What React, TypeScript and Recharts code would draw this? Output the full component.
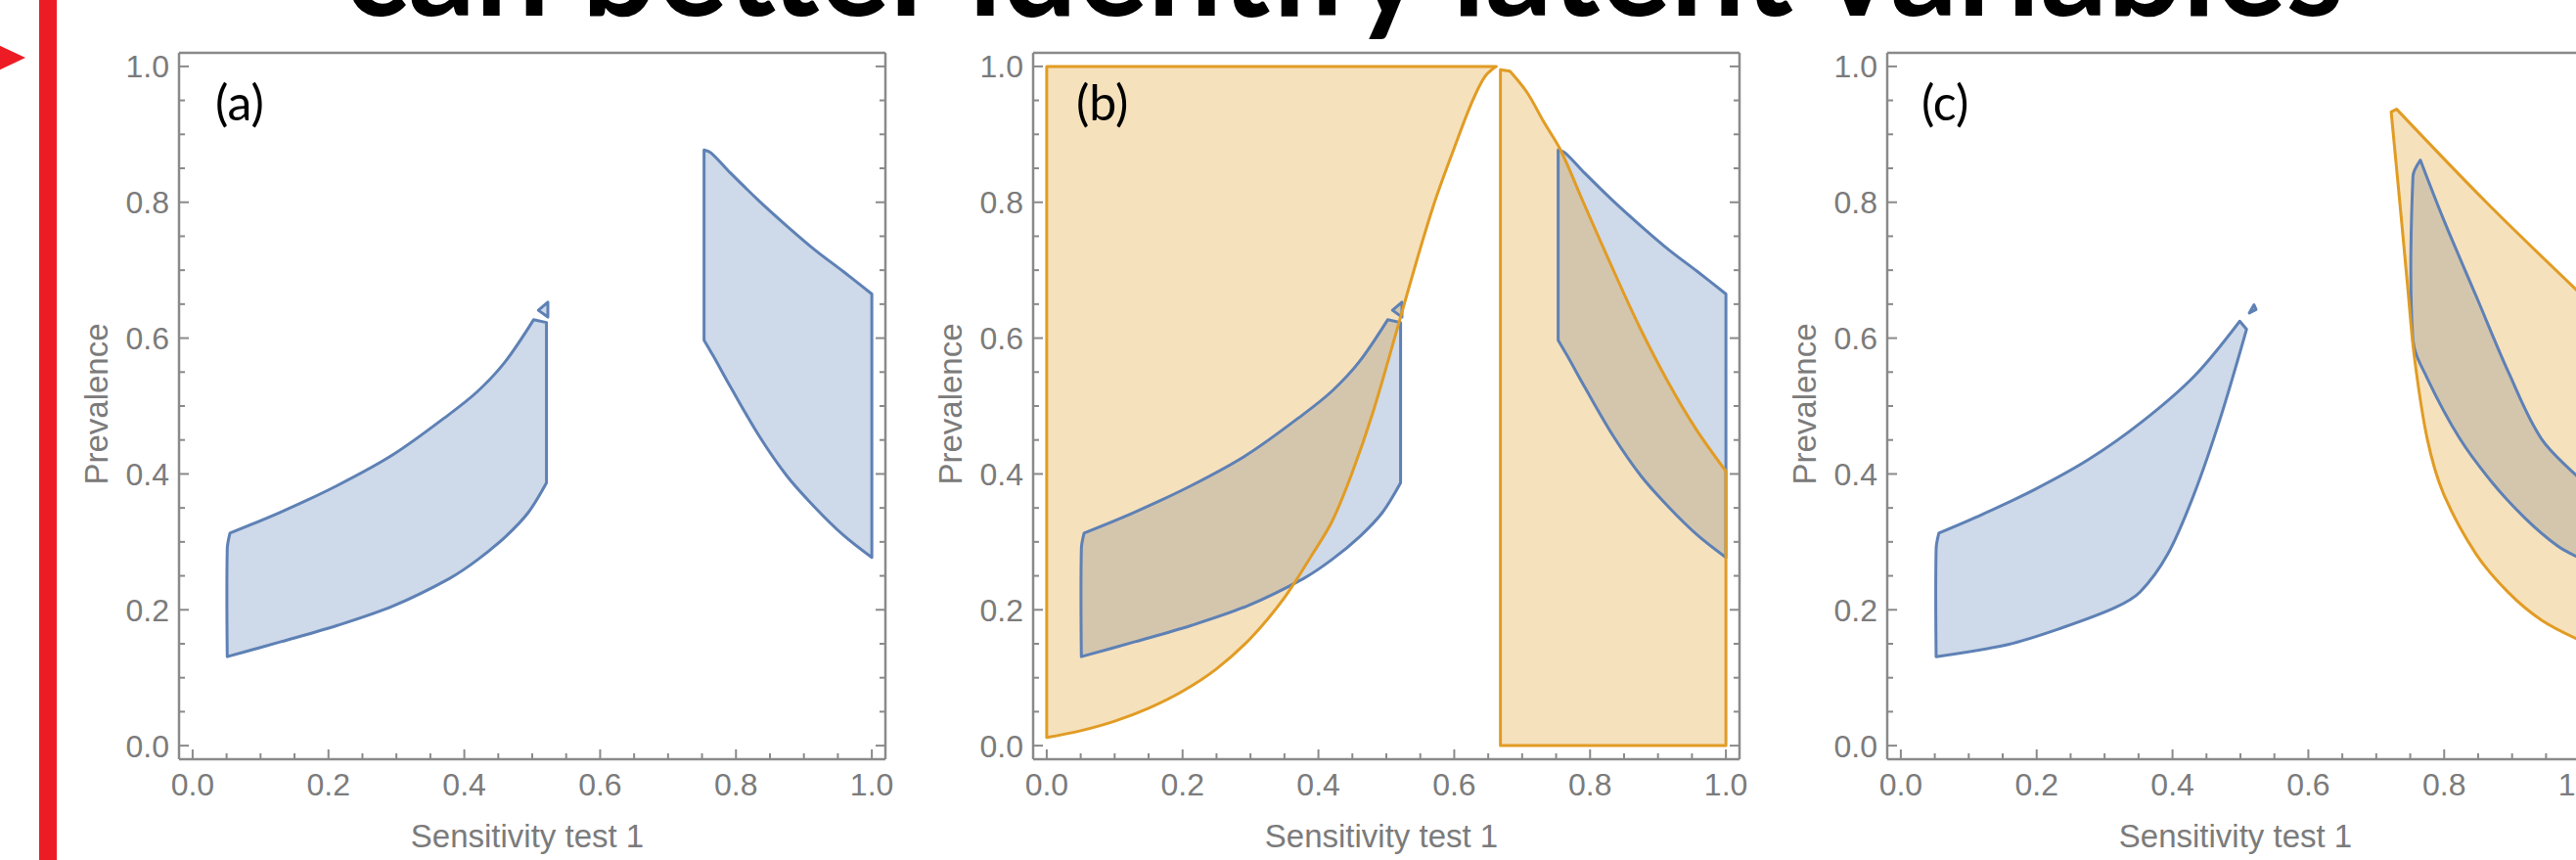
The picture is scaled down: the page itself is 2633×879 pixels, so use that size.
import React from "react";
import { ScatterChart, Scatter, XAxis, YAxis } from "recharts";

// ---- data ----
const majorTicks = [0, 0.2, 0.4, 0.6, 0.8, 1.0];
const allTicks = [
  0, 0.05, 0.1, 0.15, 0.2, 0.25, 0.3, 0.35, 0.4, 0.45, 0.5,
  0.55, 0.6, 0.65, 0.7, 0.75, 0.8, 0.85, 0.9, 0.95, 1.0,
];
const panelLabels = ["(a)", "(b)", "(c)"];

// blue region, left lobe (panels a and b)
const blueLeft = [
  { x: 0.051, y: 0.131 }, { x: 0.13, y: 0.153 }, { x: 0.213, y: 0.177 },
  { x: 0.296, y: 0.206 }, { x: 0.378, y: 0.246 }, { x: 0.42, y: 0.274 },
  { x: 0.461, y: 0.308 }, { x: 0.494, y: 0.343 }, { x: 0.521, y: 0.387 },
  { x: 0.521, y: 0.623 }, { x: 0.502, y: 0.627 }, { x: 0.46, y: 0.565 },
  { x: 0.42, y: 0.522 }, { x: 0.378, y: 0.488 }, { x: 0.296, y: 0.429 },
  { x: 0.213, y: 0.383 }, { x: 0.13, y: 0.344 }, { x: 0.055, y: 0.313 },
  { x: 0.051, y: 0.29 },
];
const blueNub = [
  { x: 0.523, y: 0.653 }, { x: 0.509, y: 0.641 }, { x: 0.523, y: 0.631 },
];
// blue region, right lobe (panels a and b)
const blueRight = [
  { x: 0.753, y: 0.597 }, { x: 0.753, y: 0.877 }, { x: 0.763, y: 0.873 },
  { x: 0.792, y: 0.843 }, { x: 0.834, y: 0.802 }, { x: 0.875, y: 0.765 },
  { x: 0.916, y: 0.73 }, { x: 0.958, y: 0.698 }, { x: 1.0, y: 0.665 },
  { x: 1.0, y: 0.277 }, { x: 0.958, y: 0.31 }, { x: 0.916, y: 0.351 },
  { x: 0.875, y: 0.397 }, { x: 0.834, y: 0.456 }, { x: 0.792, y: 0.528 },
  { x: 0.767, y: 0.573 },
];
// orange region (panel b), part above the curve
const orangeLeftB = [
  { x: 0.0, y: 0.012 }, { x: 0.0, y: 1.0 }, { x: 0.662, y: 1.0 },
  { x: 0.645, y: 0.985 }, { x: 0.625, y: 0.945 }, { x: 0.6, y: 0.88 },
  { x: 0.571, y: 0.8 }, { x: 0.545, y: 0.715 }, { x: 0.515, y: 0.61 },
  { x: 0.48, y: 0.49 }, { x: 0.449, y: 0.4 }, { x: 0.42, y: 0.33 },
  { x: 0.39, y: 0.28 }, { x: 0.35, y: 0.218 }, { x: 0.3, y: 0.158 },
  { x: 0.25, y: 0.113 }, { x: 0.2, y: 0.08 }, { x: 0.15, y: 0.055 },
  { x: 0.1, y: 0.036 }, { x: 0.05, y: 0.022 },
];
// orange region (panel b), part below the curve
const orangeRightB = [
  { x: 0.668, y: 0.995 }, { x: 0.668, y: 0.0 }, { x: 1.0, y: 0.0 },
  { x: 1.0, y: 0.404 }, { x: 0.956, y: 0.466 }, { x: 0.915, y: 0.535 },
  { x: 0.873, y: 0.616 }, { x: 0.832, y: 0.705 }, { x: 0.79, y: 0.8 },
  { x: 0.757, y: 0.876 }, { x: 0.732, y: 0.918 }, { x: 0.707, y: 0.962 },
  { x: 0.682, y: 0.993 },
];
// panel c
const blueLeftC = [
  { x: 0.052, y: 0.131 }, { x: 0.158, y: 0.149 }, { x: 0.236, y: 0.173 },
  { x: 0.315, y: 0.203 }, { x: 0.352, y: 0.226 }, { x: 0.393, y: 0.282 },
  { x: 0.432, y: 0.371 }, { x: 0.471, y: 0.484 }, { x: 0.509, y: 0.613 },
  { x: 0.499, y: 0.625 }, { x: 0.432, y: 0.544 }, { x: 0.354, y: 0.476 },
  { x: 0.276, y: 0.421 }, { x: 0.197, y: 0.377 }, { x: 0.119, y: 0.34 },
  { x: 0.056, y: 0.313 }, { x: 0.052, y: 0.29 },
];
const blueNubC = [
  { x: 0.513, y: 0.637 }, { x: 0.52, y: 0.649 }, { x: 0.523, y: 0.642 },
];
const blueRightC = [
  { x: 0.754, y: 0.597 }, { x: 0.754, y: 0.838 }, { x: 0.765, y: 0.862 },
  { x: 0.799, y: 0.775 }, { x: 0.847, y: 0.662 }, { x: 0.895, y: 0.549 },
  { x: 0.943, y: 0.452 }, { x: 1.0, y: 0.393 }, { x: 1.0, y: 0.276 },
  { x: 0.967, y: 0.294 }, { x: 0.919, y: 0.335 }, { x: 0.871, y: 0.387 },
  { x: 0.823, y: 0.452 }, { x: 0.775, y: 0.541 },
];
const orangeC = [
  { x: 0.722, y: 0.933 }, { x: 0.73, y: 0.937 }, { x: 0.862, y: 0.8 },
  { x: 1.0, y: 0.666 }, { x: 1.0, y: 0.155 }, { x: 0.943, y: 0.185 },
  { x: 0.895, y: 0.225 }, { x: 0.847, y: 0.282 }, { x: 0.799, y: 0.371 },
  { x: 0.775, y: 0.452 }, { x: 0.756, y: 0.573 }, { x: 0.746, y: 0.678 },
  { x: 0.737, y: 0.775 }, { x: 0.727, y: 0.88 },
];

// ---- styling ----
const BLUE = "#5e81b5";
const ORANGE = "#e19c24";
const FRAME = "#8a8a8a";
const TICK_TEXT = "#7b7b7b";
const DOMAIN: [number, number] = [-0.02, 1.02];
const frameLefts = [183, 1056, 1929];
const labelOffsets = [37, 44, 35];

type Pt = { x: number; y: number };
type Layer = { data: Pt[]; color: string; fill: boolean; stroke: boolean };

const fillOf = (data: Pt[], color: string): Layer => ({ data, color, fill: true, stroke: false });
const lineOf = (data: Pt[], color: string): Layer => ({ data, color, fill: false, stroke: true });

// fills first (orange over blue), then the outlines
const panels: Layer[][] = [
  [
    fillOf(blueLeft, BLUE), fillOf(blueNub, BLUE), fillOf(blueRight, BLUE),
    lineOf(blueLeft, BLUE), lineOf(blueNub, BLUE), lineOf(blueRight, BLUE),
  ],
  [
    fillOf(blueLeft, BLUE), fillOf(blueNub, BLUE), fillOf(blueRight, BLUE),
    fillOf(orangeLeftB, ORANGE), fillOf(orangeRightB, ORANGE),
    lineOf(blueLeft, BLUE), lineOf(blueNub, BLUE), lineOf(blueRight, BLUE),
    lineOf(orangeLeftB, ORANGE), lineOf(orangeRightB, ORANGE),
  ],
  [
    fillOf(blueLeftC, BLUE), fillOf(blueNubC, BLUE), fillOf(blueRightC, BLUE),
    fillOf(orangeC, ORANGE),
    lineOf(blueLeftC, BLUE), lineOf(blueNubC, BLUE), lineOf(blueRightC, BLUE),
    lineOf(orangeC, ORANGE),
  ],
];

const fmt = (v: number) => v.toFixed(1);

function FrameTick(props: any) {
  const { x, y, payload, side } = props;
  const v = payload.value;
  const major = majorTicks.includes(v);
  const len = major ? 10 : 6;
  const lineProps = { stroke: FRAME, strokeWidth: 2 };
  if (side === "bottom") {
    return (
      <g>
        <line x1={x} x2={x} y1={y} y2={y - len} {...lineProps} />
        {major && (
          <text x={x} y={y + 37} textAnchor="middle" fontSize={32}
            fontFamily="Liberation Sans, Arial" fill={TICK_TEXT}>
            {fmt(v)}
          </text>
        )}
      </g>
    );
  }
  if (side === "top") {
    return <line x1={x} x2={x} y1={y} y2={y + len} {...lineProps} />;
  }
  if (side === "left") {
    return (
      <g>
        <line x1={x} x2={x + len} y1={y} y2={y} {...lineProps} />
        {major && (
          <text x={x - 10} y={y + 11.5} textAnchor="end" fontSize={32}
            fontFamily="Liberation Sans, Arial" fill={TICK_TEXT}>
            {fmt(v)}
          </text>
        )}
      </g>
    );
  }
  return <line x1={x} x2={x - len} y1={y} y2={y} {...lineProps} />;
}

const Empty = () => <g />;

// closed outline through the scaled points: rounded where it bends gently,
// sharp at hard turns (box corners, lobe tips)
function smoothClosedPath(pts: Pt[]) {
  const n = pts.length;
  if (n < 3) return "";
  const at = (i: number) => pts[(i + n) % n];
  const dist = (a: Pt, b: Pt) => Math.hypot(b.x - a.x, b.y - a.y);
  const isCorner = (i: number) => {
    const a = at(i - 1), b = at(i), c = at(i + 1);
    const a1 = Math.atan2(b.y - a.y, b.x - a.x);
    const a2 = Math.atan2(c.y - b.y, c.x - b.x);
    let d = Math.abs(a2 - a1);
    if (d > Math.PI) d = 2 * Math.PI - d;
    return d > (28 * Math.PI) / 180;
  };
  const corner = pts.map((_, i) => isCorner(i));
  const dir = (i: number) => {
    const p = at(i - 1), q = at(i + 1);
    const l = dist(p, q) || 1;
    return { x: (q.x - p.x) / l, y: (q.y - p.y) / l };
  };
  let d = `M${pts[0].x},${pts[0].y}`;
  for (let i = 0; i < n; i++) {
    const p = at(i), q = at(i + 1);
    const len = dist(p, q) * 0.33;
    const c1 = corner[i] ? p : { x: p.x + dir(i).x * len, y: p.y + dir(i).y * len };
    const j = (i + 1) % n;
    const c2 = corner[j] ? q : { x: q.x - dir(j).x * len, y: q.y - dir(j).y * len };
    d += `C${c1.x},${c1.y} ${c2.x},${c2.y} ${q.x},${q.y}`;
  }
  return d + "Z";
}

const regionLine = (layer: Layer) => (p: any) => {
  const pts = (p.points || []).filter((q: any) => q.x != null && q.y != null);
  return (
    <path d={smoothClosedPath(pts)}
      fill={layer.fill ? layer.color : "none"} fillOpacity={0.3}
      stroke={layer.stroke ? layer.color : "none"}
      strokeWidth={3} strokeLinejoin="round" />
  );
};

const XTitle = (props: any) => {
  const vb = props.viewBox || { x: 150, y: 776, width: 722, height: 103 };
  return (
    <text x={vb.x + 356} y={vb.y + 90} textAnchor="middle" fontSize={33}
      fontFamily="Liberation Sans, Arial" fill={TICK_TEXT}>
      Sensitivity test 1
    </text>
  );
};

const YTitle = (props: any) => {
  const vb = props.viewBox || { x: 0, y: 54, width: 150, height: 722 };
  const cx = vb.x + vb.width - 73;
  const cy = vb.y + 359;
  return (
    <text x={cx} y={cy} textAnchor="middle" fontSize={33}
      fontFamily="Liberation Sans, Arial" fill={TICK_TEXT}
      transform={`rotate(-90, ${cx}, ${cy})`}>
      Prevalence
    </text>
  );
};

function Panel({ index }: { index: number }) {
  const axisLine = { stroke: FRAME, strokeWidth: 2.5 };
  const common = {
    type: "number" as const,
    domain: DOMAIN,
    ticks: allTicks,
    interval: 0 as const,
    allowDataOverflow: true,
    tickSize: 0,
    tickMargin: 0,
    tickLine: false,
    axisLine,
  };
  return (
    <div style={{ position: "absolute", left: frameLefts[index] - 150, top: 0 }}>
      <ScatterChart width={912} height={879}
        margin={{ top: 44, right: 0, bottom: 0, left: 0 }}>
        <XAxis xAxisId="b" dataKey="x" orientation="bottom" height={103} {...common}
          tick={(p: any) => <FrameTick {...p} side="bottom" />}
          label={{ content: XTitle }} />
        <XAxis xAxisId="t" orientation="top" height={10} {...common}
          tick={(p: any) => <FrameTick {...p} side="top" />} />
        <YAxis yAxisId="l" dataKey="y" orientation="left" width={150} {...common}
          tick={(p: any) => <FrameTick {...p} side="left" />}
          label={{ content: YTitle }} />
        <YAxis yAxisId="r" orientation="right" width={40} {...common}
          tick={(p: any) => <FrameTick {...p} side="right" />} />
        {panels[index].map((s, i) => (
          <Scatter key={i} data={s.data} xAxisId="b" yAxisId="l" fill={s.color}
            line={regionLine(s)} lineType="joint" shape={Empty}
            isAnimationActive={false} />
        ))}
      </ScatterChart>
    </div>
  );
}

export default function App() {
  return (
    <div style={{
      position: "absolute", left: 0, top: 0, width: 2633, height: 879,
      overflow: "hidden", background: "#fff",
    }}>
      {[0, 1, 2].map((i) => <Panel key={i} index={i} />)}
      <svg width={2633} height={879}
        style={{ position: "absolute", left: 0, top: 0, pointerEvents: "none" }}>
        <text x={352} y={16} fontSize={142} fontWeight={700} fontFamily="Lato, Open Sans, sans-serif"
          fill="#000" textLength={2044} lengthAdjust="spacingAndGlyphs">
          can better identify latent variables
        </text>
        <rect x={40} y={0} width={18} height={879} fill="#ed1c24" />
        <polygon points="-6,44 26,59 -6,74" fill="#ed1c24" />
        {panelLabels.map((t, i) => (
          <text key={t} x={frameLefts[i] + labelOffsets[i]} y={123} fontSize={50}
            fontFamily="Lato, Open Sans, sans-serif" fill="#000">
            {t}
          </text>
        ))}
      </svg>
    </div>
  );
}
